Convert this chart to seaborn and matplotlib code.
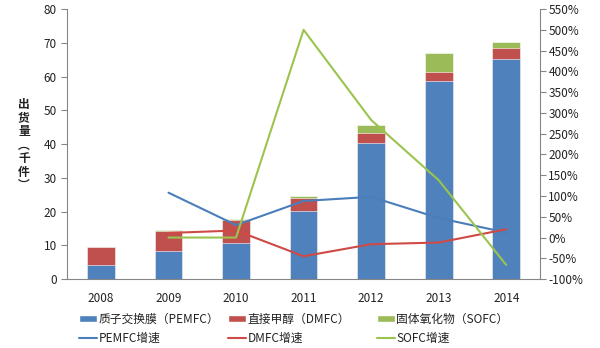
import numpy as np
import pandas as pd
import matplotlib
matplotlib.use("Agg")
import matplotlib.pyplot as plt
import seaborn as sns
from matplotlib.ticker import FuncFormatter, FixedLocator
from matplotlib.patches import Patch
from matplotlib.lines import Line2D

years = ["2008", "2009", "2010", "2011", "2012", "2013", "2014"]
pemfc = [4.1, 8.3, 10.8, 20.3, 40.4, 58.8, 65.3]
dmfc = [5.4, 5.9, 6.8, 3.7, 3.0, 2.5, 3.1]
sofc = [0.0, 0.2, 0.1, 0.6, 2.3, 5.6, 1.8]
pemfc_growth = [np.nan, 108, 30, 88, 98, 47, 12]
dmfc_growth = [np.nan, 11, 17, -45, -16, -12, 20]
sofc_growth = [np.nan, 0, 0, 500, 283, 138, -66]

bar_labels = ["质子交换膜（PEMFC）", "直接甲醇（DMFC）", "固体氧化物（SOFC）"]
line_labels = ["PEMFC增速", "DMFC增速", "SOFC增速"]
ylabel_chars = "出\n货\n量\n︵\n千\n件\n︶"

c_blue, c_red, c_green = "#4F81BD", "#C0504D", "#9BBB59"
l_blue, l_red, l_green = "#4A7EBB", "#D04A45", "#9BC44E"

sns.set_theme(style="white")
plt.rcParams["font.family"] = ["Noto Sans CJK SC", "DejaVu Sans"]

df = pd.DataFrame({"year": years, "p": pemfc, "d": dmfc, "s": sofc})
df["pd"] = df["p"] + df["d"]
df["tot"] = df["pd"] + df["s"]

fig = plt.figure(figsize=(6.0, 3.48), dpi=100)
ax = fig.add_axes([0.112, 0.198, 0.788, 0.776])

bw = 0.41
for col, c in [("tot", c_green), ("pd", c_red), ("p", c_blue)]:
    sns.barplot(data=df, x="year", y=col, color=c, width=bw, ax=ax,
                saturation=1, edgecolor="white", linewidth=0.4)

ax.set_xlim(-0.5, len(years) - 0.5)
ax.set_ylim(0, 80)
ax.set_yticks(np.arange(0, 81, 10))
ax.set_xlabel("")
ax.set_ylabel("")
for s in ["top", "right"]:
    ax.spines[s].set_visible(False)
for s in ["left", "bottom"]:
    ax.spines[s].set_color("#868686")
    ax.spines[s].set_linewidth(0.8)
ax.tick_params(axis="x", which="major", length=0, labelsize=8.5, pad=9)
ax.xaxis.set_minor_locator(FixedLocator(np.arange(-0.5, len(years), 1.0)))
ax.tick_params(axis="x", which="minor", length=4, color="#868686", width=0.8)
ax.tick_params(axis="y", length=4, color="#868686", width=0.8, labelsize=8.5, left=True)
for t in ax.get_xticklabels() + ax.get_yticklabels():
    t.set_color("#222222")

ax2 = ax.twinx()
xpos = np.arange(len(years))
for vals, c in [(pemfc_growth, l_blue), (dmfc_growth, l_red), (sofc_growth, l_green)]:
    ldf = pd.DataFrame({"x": xpos, "v": vals}).dropna()
    sns.lineplot(data=ldf, x="x", y="v", color=c, linewidth=1.5, ax=ax2)
ax2.set_ylim(-100, 550)
ax2.set_yticks(np.arange(-100, 551, 50))
ax2.yaxis.set_major_formatter(FuncFormatter(lambda v, p: f"{int(v)}%"))
ax2.set_xlim(-0.5, len(years) - 0.5)
ax2.set_ylabel("")
ax2.set_xlabel("")
for s in ["top", "left", "bottom"]:
    ax2.spines[s].set_visible(False)
ax2.spines["right"].set_color("#868686")
ax2.spines["right"].set_linewidth(0.8)
ax2.tick_params(axis="y", length=4, color="#868686", width=0.8, labelsize=8.5, right=True, pad=2)
for t in ax2.get_yticklabels():
    t.set_color("#222222")

fig.text(0.04, 0.583, ylabel_chars, ha="center", va="center", fontsize=8.5,
         fontweight="bold", linespacing=1.05, color="#222222")

bar_colors = [c_blue, c_red, c_green]
line_colors = [l_blue, l_red, l_green]
col_x = [79 / 600, 228 / 600, 377 / 600]
for i in range(3):
    hs = [Patch(facecolor=bar_colors[i], label=bar_labels[i]),
          Line2D([], [], color=line_colors[i], lw=1.5, label=line_labels[i])]
    leg = fig.legend(handles=hs, ncol=1, loc="center left",
                     bbox_to_anchor=(col_x[i], 0.055), frameon=False, fontsize=8.5,
                     handlelength=1.5, handleheight=0.5, handletextpad=0.15,
                     labelspacing=0.55, borderaxespad=0, borderpad=0)
    for t in leg.get_texts():
        t.set_color("#222222")

fig.savefig("out.png", dpi=100, facecolor="white")
